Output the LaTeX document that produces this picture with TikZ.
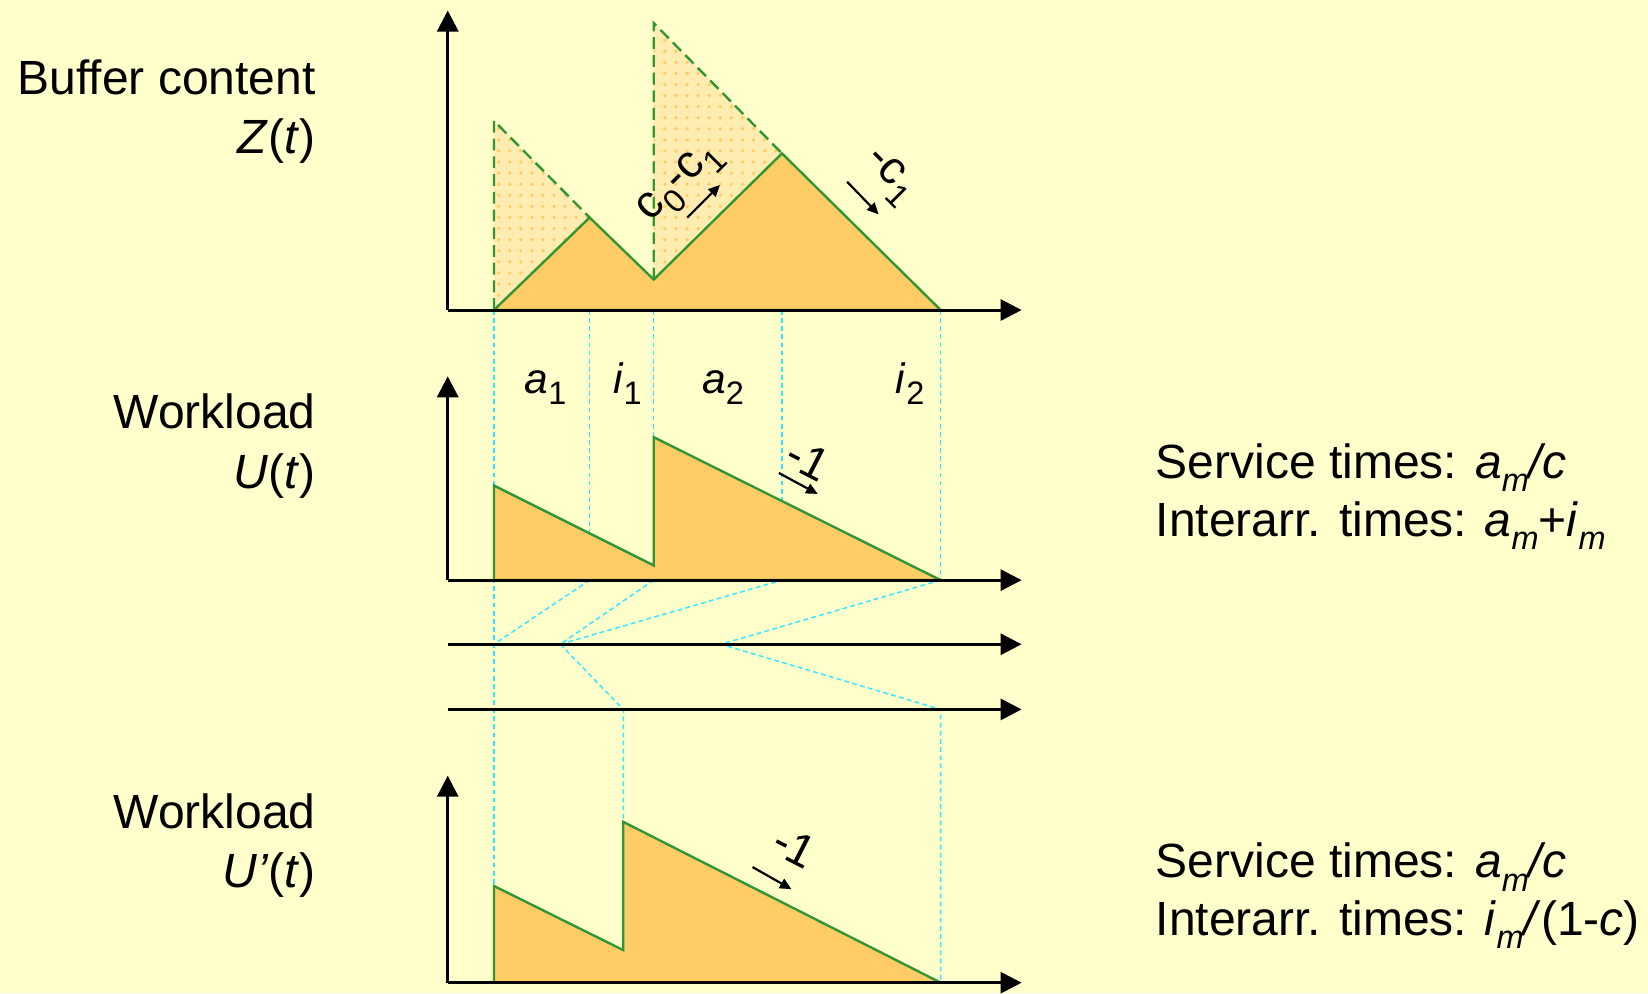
\documentclass[tikz,border=0pt]{standalone}
\usepackage{fontspec}
\setmainfont{Liberation Sans}
\usetikzlibrary{arrows.meta,patterns}
\definecolor{bgyellow}{RGB}{255,255,204}
\definecolor{fillorange}{RGB}{255,204,102}
\definecolor{lightorange}{RGB}{255,236,176}
\definecolor{curvegreen}{RGB}{51,150,51}
\definecolor{guidecyan}{RGB}{51,232,255}
\newcommand{\subidx}[1]{\raisebox{-0.28em}{\fontsize{8.8}{8.8}\selectfont #1}}

\begin{document}
\begin{tikzpicture}[
    every node/.style={font=\fontsize{13}{15.5}\selectfont, inner sep=0pt},
    small/.style={font=\fontsize{11.5}{13.5}\selectfont},
    ratelbl/.style={font=\fontsize{12.5}{14}\selectfont},
    axis/.style={line width=0.8pt, -{Triangle[length=0.2cm, width=0.2cm]}},
    curve/.style={line width=0.65pt, draw=curvegreen, fill=fillorange, line join=miter},
    virtual/.style={line width=0.65pt, curvegreen, dash pattern=on 3.2pt off 1.6pt},
    excess/.style={preaction={fill=lightorange}, pattern=dots, pattern color=fillorange},
    guide/.style={guidecyan, line width=0.4pt, dash pattern=on 1.3pt off 0.9pt},
    slope/.style={line width=0.6pt, -{Triangle[length=0.11cm, width=0.1cm]}}
]
\fill[bgyellow] (0,0) rectangle (15.68,9.45);
\useasboundingbox (0,0) rectangle (15.68,9.45);

% ---- guide lines between the panels ----
\draw[guide] (4.70,6.50) -- (4.70,1.02);
\draw[guide] (5.61,6.50) -- (5.61,4.375);
\draw[guide] (6.22,6.50) -- (6.22,5.29);
\draw[guide] (7.44,6.50) -- (7.44,4.68);
\draw[guide] (8.95,6.50) -- (8.95,3.93);
\draw[guide] (5.61,3.93) -- (4.70,3.32);
\draw[guide] (6.22,3.93) -- (5.33,3.32) -- (7.44,3.93);
\draw[guide] (8.95,3.93) -- (6.86,3.32) -- (8.95,2.70) -- (8.95,0.10);
\draw[guide] (5.33,3.32) -- (5.93,2.70) -- (5.93,1.63);

% ---- top panel: buffer content ----
\fill[excess] (4.70,6.50) -- (4.70,8.30) -- (5.61,7.38) -- cycle;
\fill[excess] (6.22,6.79) -- (6.22,9.23) -- (7.44,7.99) -- cycle;
\draw[curve] (4.70,6.50) -- (5.61,7.38) -- (6.22,6.79) -- (7.44,7.99) -- (8.95,6.50) -- cycle;
\draw[virtual] (4.70,6.50) -- (4.70,8.30) -- (5.61,7.38);
\draw[virtual] (6.22,6.79) -- (6.22,9.23) -- (7.44,7.99);
\draw[axis] (4.26,6.50) -- (9.72,6.50);
\draw[axis] (4.26,6.50) -- (4.26,9.35);

\node[ratelbl, rotate=45] (uprate) at (6.48,7.70) {c\subidx{0}-c\subidx{1}};
\draw[slope] (6.54,7.38) -- (6.85,7.69);
\node[ratelbl, rotate=-45] (downrate) at (8.46,7.77) {-c\subidx{1}};
\draw[slope] (8.06,7.72) -- (8.36,7.41);

\node[anchor=base east] (zlabel) at (3.01,8.55) {Buffer content};
\node[anchor=base east] (zname) at (3.01,7.99) {\textit{Z}(\textit{t})};

% ---- interval labels ----
\node[small, anchor=base] (aone) at (5.19,5.71) {\textit{a}\subidx{1}};
\node[small, anchor=base] (ione) at (5.97,5.71) {\textit{i}\subidx{1}};
\node[small, anchor=base] (atwo) at (6.88,5.71) {\textit{a}\subidx{2}};
\node[small, anchor=base] (itwo) at (8.66,5.71) {\textit{i}\subidx{2}};

% ---- middle panel: workload ----
\draw[curve] (4.70,3.93) -- (4.70,4.83) -- (6.22,4.07) -- (6.22,5.29) -- (8.95,3.93) -- cycle;
\draw[axis] (4.26,3.93) -- (9.72,3.93);
\draw[axis] (4.26,3.93) -- (4.26,5.87);
\node[ratelbl, rotate=-27] (uslope) at (7.69,5.08) {-1};
\draw[slope] (7.41,4.95) -- (7.78,4.75);

\node[anchor=base east] (ulabel) at (3.01,5.37) {Workload};
\node[anchor=base east] (uname) at (3.01,4.80) {\textit{U}(\textit{t})};

\node[anchor=base west] (useva) at (10.99,4.90) {Service times: \textit{a}\subidx{\textit{m}}\textit{/c}};
\node[anchor=base west] (uarra) at (10.99,4.35) {Interarr. times: \textit{a}\subidx{\textit{m}}+\textit{i}\subidx{\textit{m}}};

% ---- time axes of the mapping ----
\draw[axis] (4.26,3.32) -- (9.72,3.32);
\draw[axis] (4.26,2.70) -- (9.72,2.70);

% ---- bottom panel: transformed workload ----
\draw[curve] (4.70,0.10) -- (4.70,1.02) -- (5.93,0.41) -- (5.93,1.63) -- (8.95,0.10) -- cycle;
\draw[axis] (4.26,0.10) -- (9.72,0.10);
\draw[axis] (4.26,0.10) -- (4.26,2.07);
\node[ratelbl, rotate=-27] (vslope) at (7.56,1.39) {-1};
\draw[slope] (7.16,1.20) -- (7.53,0.99);

\node[anchor=base east] (vlabel) at (3.01,1.57) {Workload};
\node[anchor=base east] (vname) at (3.01,1.01) {\textit{U’}(\textit{t})};

\node[anchor=base west] (vseva) at (10.99,1.10) {Service times: \textit{a}\subidx{\textit{m}}\textit{/c}};
\node[anchor=base west] (varra) at (10.99,0.55) {Interarr. times: \textit{i}\subidx{\textit{m}}\textit{/}(1-\textit{c})};
\end{tikzpicture}
\end{document}
